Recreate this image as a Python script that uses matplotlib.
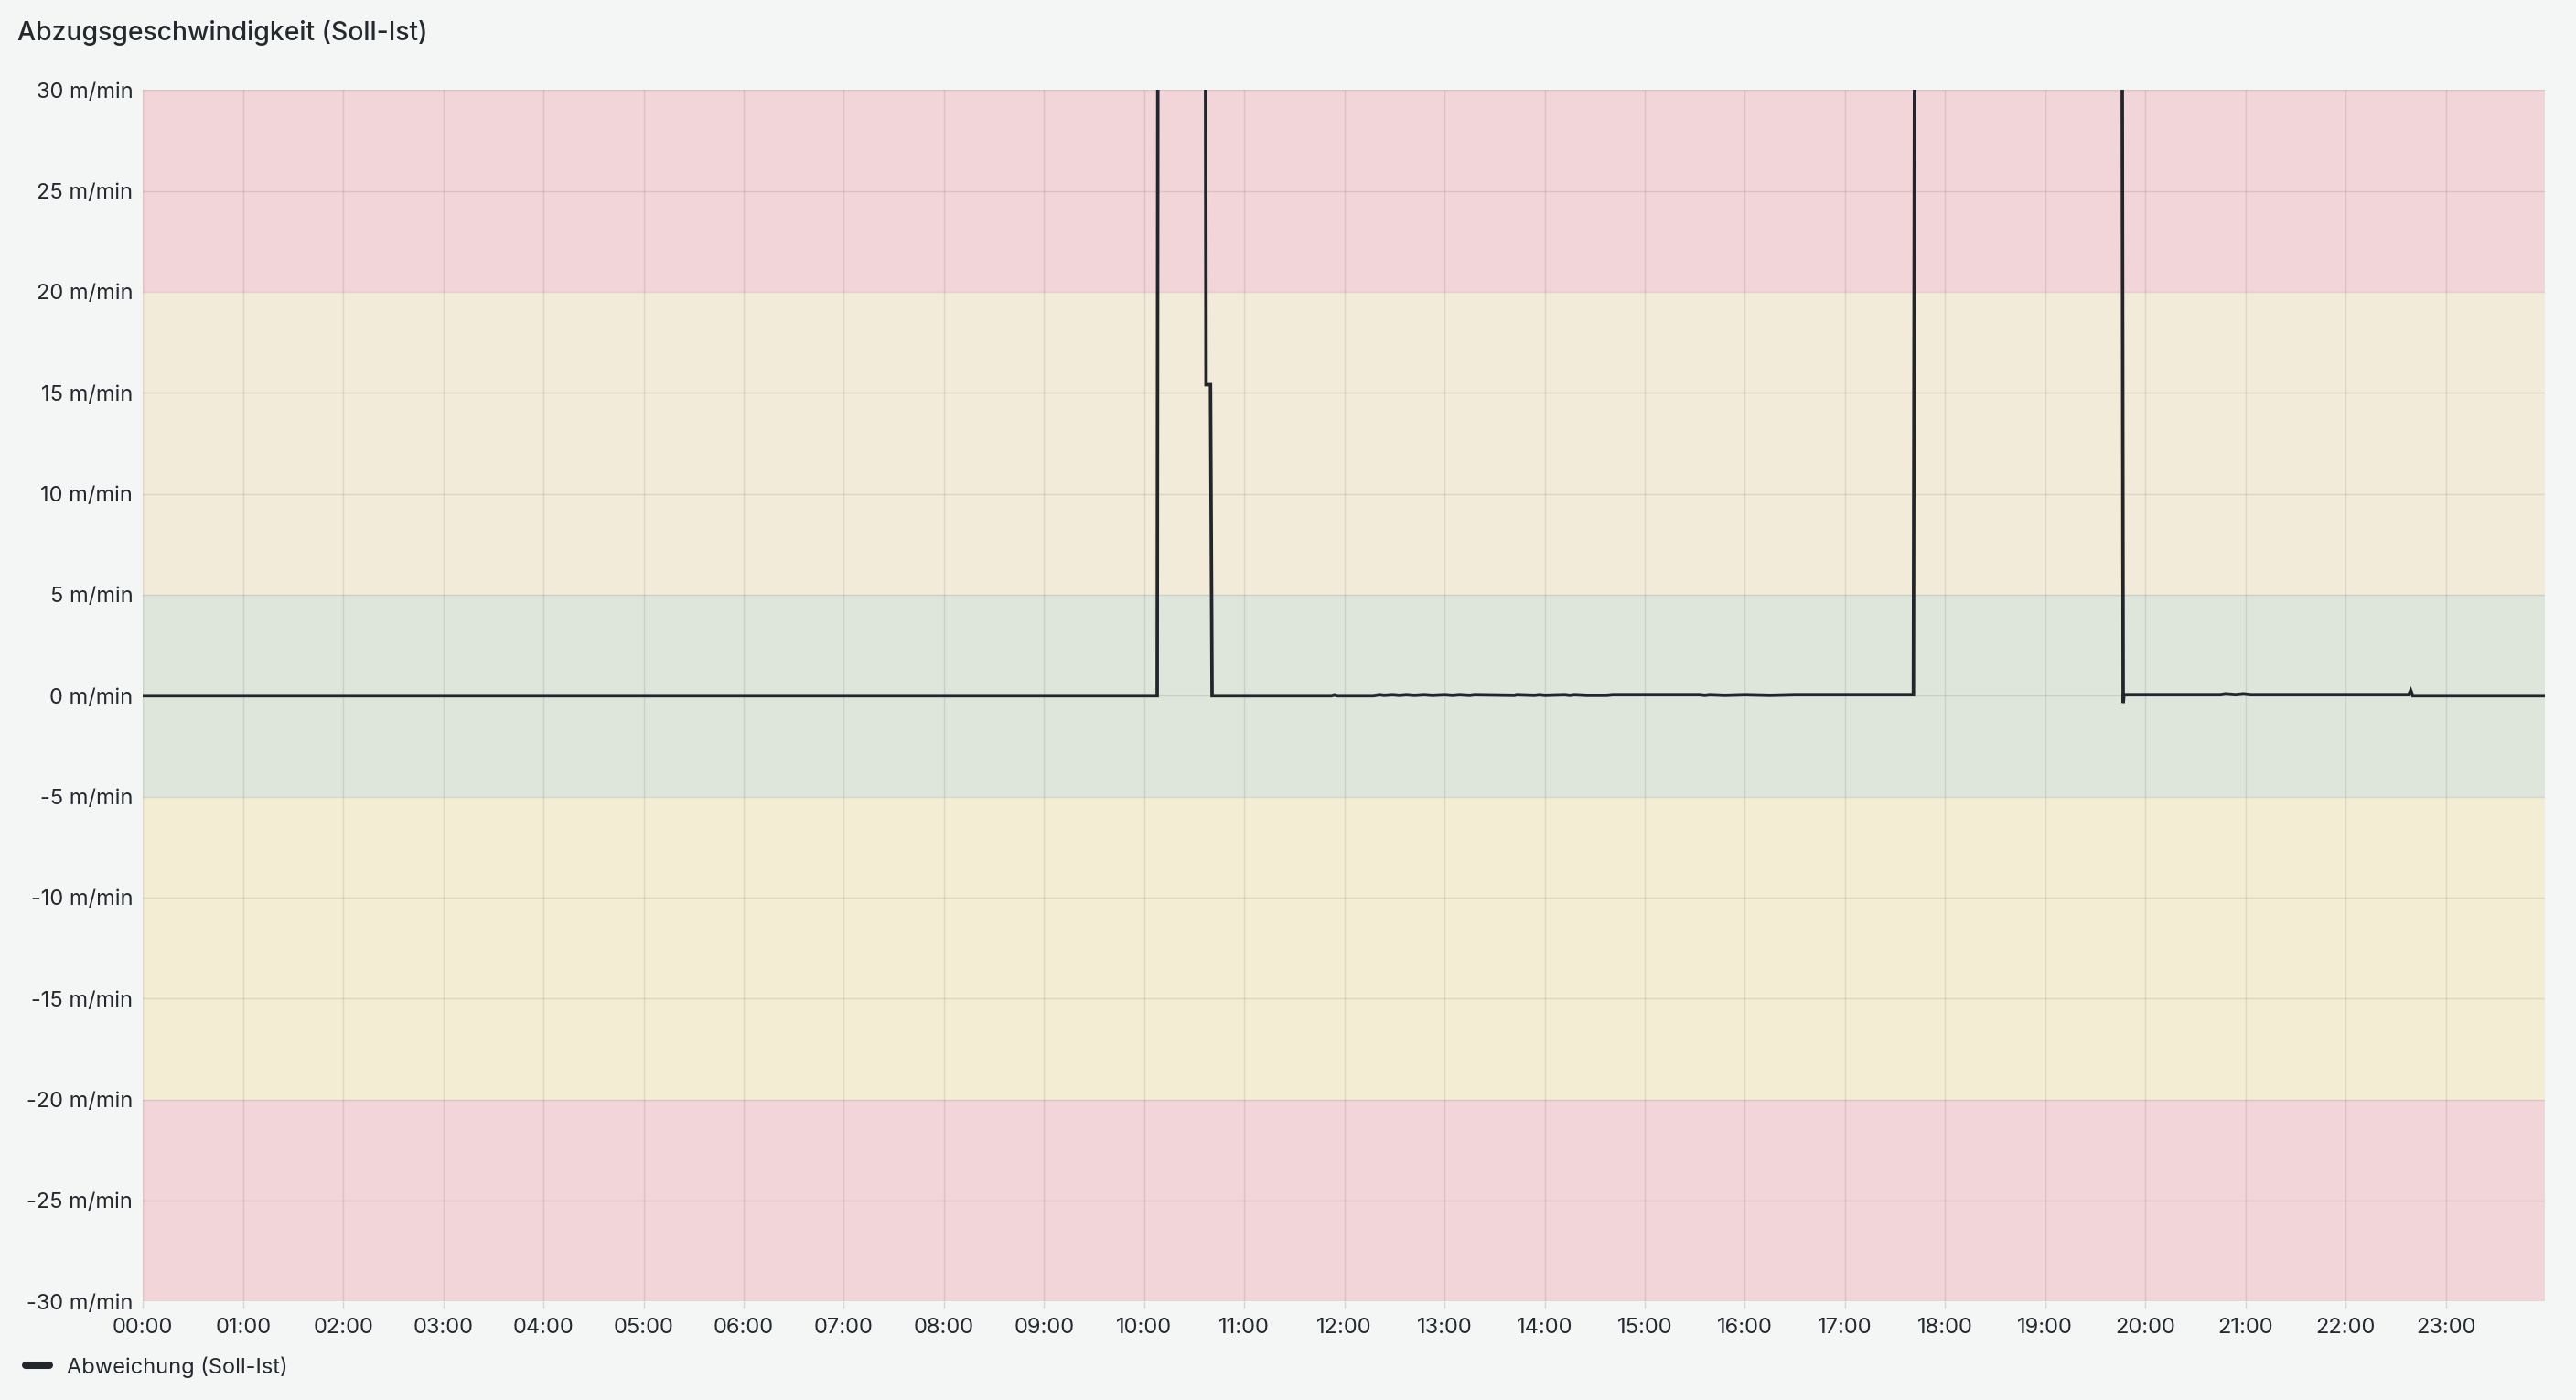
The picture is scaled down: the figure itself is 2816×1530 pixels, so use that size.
import matplotlib
matplotlib.use('Agg')
import matplotlib.pyplot as plt
from matplotlib.lines import Line2D

plt.rcParams['font.family'] = ['Inter', 'DejaVu Sans']

# Abweichung Soll-Ist in m/min, Zeit in Stunden seit 00:00
# (Werte > 30 liegen ausserhalb des Diagramms)
times = [0.0, 10.13, 10.142, 10.605, 10.618, 10.662, 10.678,
         11.87, 11.9, 11.93, 12.29, 12.35, 12.4, 12.48, 12.55, 12.62, 12.7, 12.8, 12.88,
         13.0, 13.08, 13.15, 13.25, 13.3, 13.7, 13.72, 13.9, 13.95, 14.0, 14.2, 14.25, 14.3,
         14.42, 14.62, 14.68, 15.55, 15.6, 15.65, 15.8, 16.0, 16.25, 16.5, 16.55, 17.683,
         17.705, 19.76, 19.778, 19.785,
         20.75, 20.8, 20.9, 20.98, 21.05, 21.15, 22.63, 22.65, 22.67, 23.98]
values = [0.0, 0.0, 60.0, 60.0, 15.4, 15.4, 0.0,
          0.0, 0.04, 0.0, 0.0, 0.05, 0.02, 0.05, 0.02, 0.05, 0.02, 0.05, 0.02,
          0.05, 0.02, 0.05, 0.02, 0.05, 0.02, 0.05, 0.02, 0.05, 0.02, 0.05, 0.02, 0.05,
          0.02, 0.02, 0.05, 0.05, 0.02, 0.05, 0.02, 0.05, 0.02, 0.05, 0.05, 0.05,
          60.0, 60.0, -0.36, 0.05,
          0.05, 0.09, 0.05, 0.09, 0.05, 0.05, 0.05, 0.25, 0.0, 0.0]

hour_ticks = list(range(24))
hour_labels = ['%02d:00' % h for h in hour_ticks]
y_ticks = list(range(-30, 31, 5))
y_labels = ['%d m/min' % v for v in y_ticks]

# Schwellwert-Bereiche (von, bis, Farbe)
bands = [(-30, -20, '#f2d5d9'), (-20, -5, '#f3eed3'), (-5, 5, '#dee6db'),
         (5, 20, '#f3ebd9'), (20, 30, '#f2d5d9')]

bg = '#f4f5f5'
text_col = '#24292e'
line_col = '#22262b'

fig = plt.figure(figsize=(14.08, 7.65), dpi=200, facecolor=bg)
ax = fig.add_axes([156.3 / 2816, 1 - 1422.3 / 1530,
                   (2782 - 156.3) / 2816, (1422.3 - 98.3) / 1530])
ax.set_facecolor(bg)

for lo, hi, c in bands:
    ax.axhspan(lo, hi, color=c, lw=0, zorder=0)

ax.plot(times, values, color=line_col, lw=1.35, zorder=3,
        solid_joinstyle='miter', label='Abweichung (Soll-Ist)')

ax.set_xlim(0, 23.99)
ax.set_ylim(-30, 30)
ax.set_xticks(hour_ticks)
ax.set_xticklabels(hour_labels)
ax.set_yticks(y_ticks)
ax.set_yticklabels(y_labels)
ax.grid(True, color='black', alpha=0.09, lw=0.5, zorder=1)

for s in ax.spines.values():
    s.set_visible(False)
ax.tick_params(axis='x', length=3, width=0.5, color='#d4d4d4', pad=3.2,
               labelsize=8.5, labelcolor=text_col)
ax.tick_params(axis='y', length=0, pad=4, labelsize=8.5, labelcolor=text_col)

fig.text(19 / 2816, 1 - 44 / 1530, 'Abzugsgeschwindigkeit (Soll-Ist)',
         fontsize=10.2, fontweight='medium', color=text_col, va='baseline')

handle = Line2D([], [], color=line_col, lw=2.9, solid_capstyle='round')
fig.legend([handle], ['Abweichung (Soll-Ist)'], loc='center left',
           bbox_to_anchor=(19 / 2816, 1 - 1494 / 1530), frameon=False,
           fontsize=8.5, labelcolor=text_col, handlelength=1.1,
           handletextpad=0.8, borderaxespad=0)

fig.savefig('out.png', dpi=200, facecolor=bg)
